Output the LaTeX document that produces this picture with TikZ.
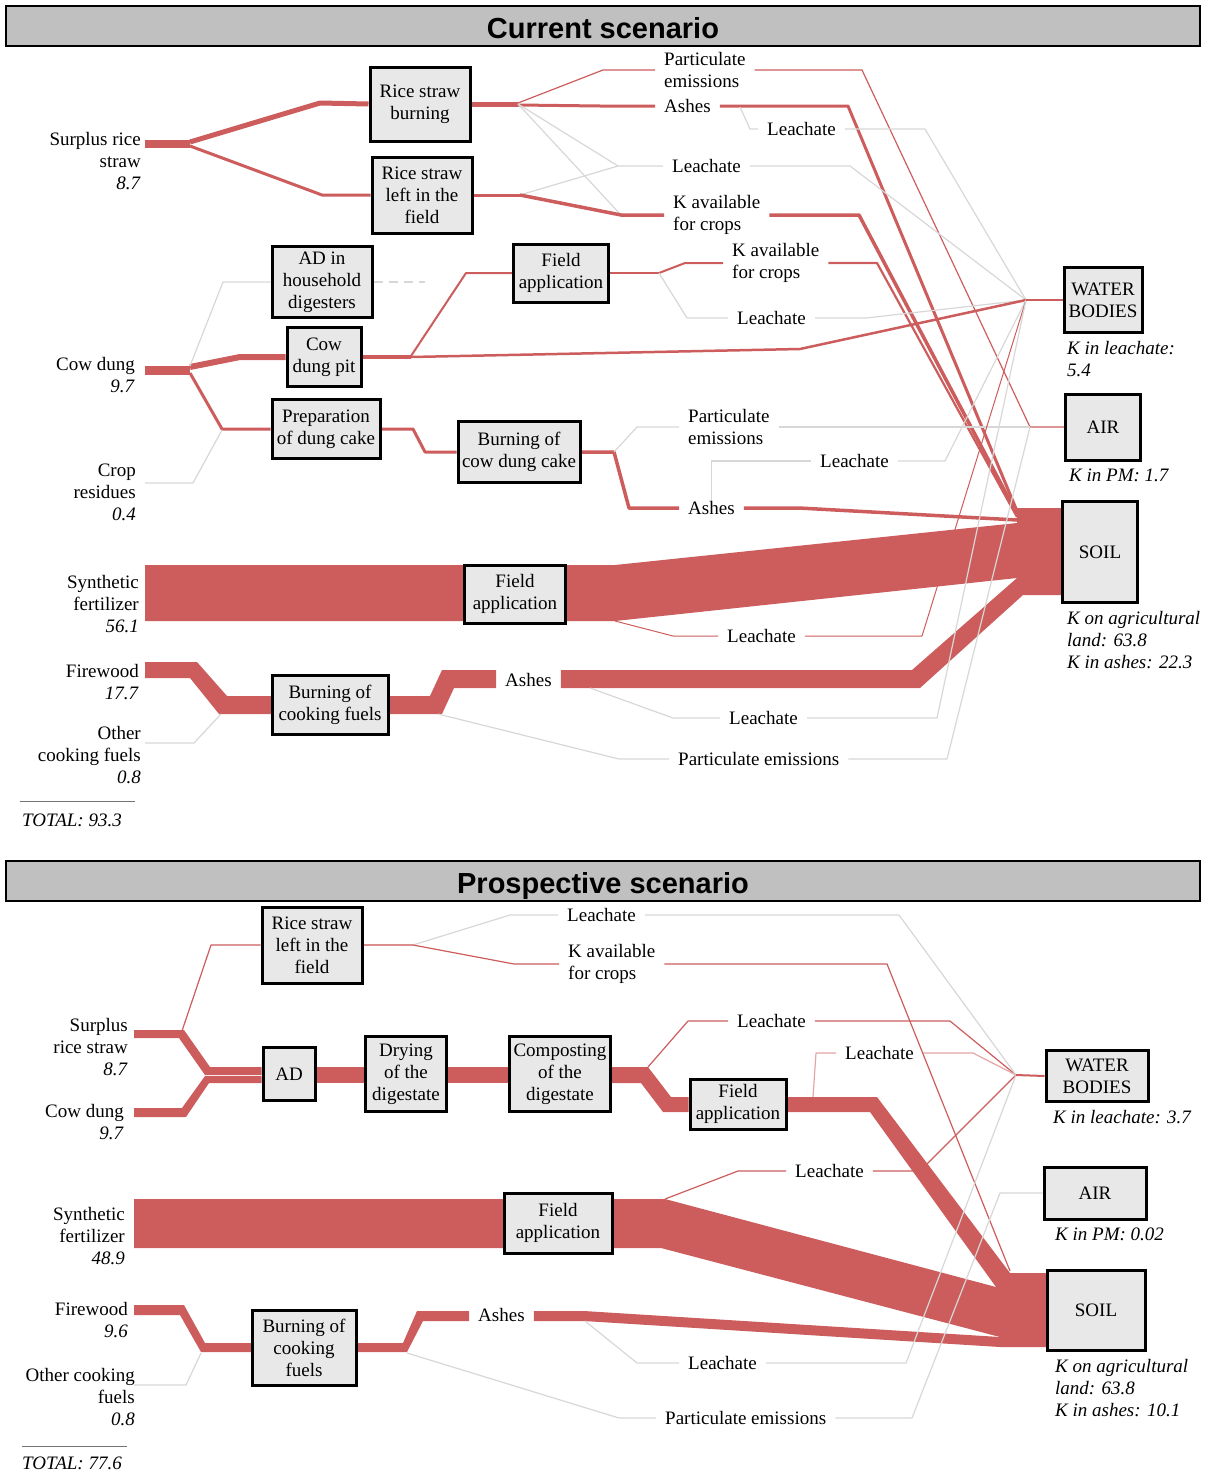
\documentclass[tikz,border=0pt]{standalone}
\usepackage{fontspec}
\setmainfont{Liberation Serif}
\newfontfamily\headfont{Liberation Sans}
\usetikzlibrary{backgrounds}
\definecolor{flow}{RGB}{205,92,92}
\definecolor{flowgray}{RGB}{215,215,215}
\definecolor{boxfill}{RGB}{232,232,232}
\definecolor{barfill}{RGB}{192,192,192}
\newcommand\lblsize{\fontsize{19}{22}\selectfont}
\begin{document}
\begin{tikzpicture}[x=1pt,y=-1pt,
  bx/.style={draw=black,line width=3pt,fill=boxfill,align=center,inner sep=0pt,font=\lblsize},
  lbl/.style={anchor=west,align=left,inner xsep=9pt,inner ysep=0pt,font=\lblsize},
  src/.style={anchor=east,align=right,inner sep=0pt,font=\lblsize},
  res/.style={anchor=west,align=left,inner sep=0pt,font=\lblsize\itshape},
  rl/.style={draw=flow,line join=round,line width=#1},
  rl/.default=1.2pt,
  gl/.style={draw=flowgray,line width=1.2pt,line join=round},
  band/.style={fill=flow,draw=none},
  headbar/.style={draw=black,line width=2pt,fill=barfill},
  headtitle/.style={font=\headfont\bfseries\fontsize{29}{34}\selectfont},
  totalrule/.style={draw=black!55,line width=1pt}
]
\useasboundingbox (0,0) rectangle (1209,1475);

%% ===================== Current scenario =====================
\path[headbar] (6,6) rectangle (1200,46);
\node[headtitle,anchor=base] (t1) at (603,38) {Current scenario};

% process boxes
\node[bx,minimum width=100pt,minimum height=74pt] (rsb) at (420,104) {Rice straw\\burning};
\node[bx,minimum width=100pt,minimum height=76pt] (rsf) at (422,195) {Rice straw\\left in the\\field};
\node[bx,minimum width=100pt,minimum height=71pt] (adh) at (322,282) {AD in\\household\\digesters};
\node[bx,minimum width=74pt,minimum height=59pt] (pit) at (324,357) {Cow\\dung pit};
\node[bx,minimum width=108pt,minimum height=59pt] (prep) at (326,429) {Preparation\\of dung cake};
\node[bx,minimum width=122pt,minimum height=61pt] (bcc) at (519,452) {Burning of\\cow dung cake};
\node[bx,minimum width=95pt,minimum height=58pt] (fa1) at (561,273) {Field\\application};
\node[bx,minimum width=101pt,minimum height=58pt] (fa2) at (515,594) {Field\\application};
\node[bx,minimum width=116pt,minimum height=59pt] (bcf) at (330,705) {Burning of\\cooking fuels};
\node[bx,minimum width=78pt,minimum height=65pt] (wat) at (1103,300) {WATER\\BODIES};
\node[bx,minimum width=75pt,minimum height=66pt] (air) at (1103,427) {AIR};
\node[bx,minimum width=75pt,minimum height=101pt] (soil) at (1100,552) {SOIL};

% inputs
\node[src] (s1) at (141,161) {Surplus rice\\straw\\\textit{8.7}};
\node[src] (s2) at (135,375) {Cow dung\\\textit{9.7}};
\node[src] (s3) at (136,492) {Crop\\residues\\\textit{0.4}};
\node[src] (s4) at (139,604) {Synthetic\\fertilizer\\\textit{56.1}};
\node[src] (s5) at (139,682) {Firewood\\\textit{17.7}};
\node[src] (s6) at (141,755) {Other\\cooking fuels\\\textit{0.8}};
\coordinate (r1a) at (20,801);
\coordinate (r1b) at (135,801);
\draw[totalrule] (r1a) -- (r1b);
\node[res] (tot1) at (22,820) {TOTAL: 93.3};

% intermediate labels
\node[lbl] (ppe1) at (655,70) {Particulate\\emissions};
\node[lbl] (ash1) at (655,106) {Ashes};
\node[lbl] (lea1) at (758,129) {Leachate};
\node[lbl] (lea2) at (663,166) {Leachate};
\node[lbl] (kav1) at (664,215) {K available\\for crops};
\node[lbl] (kav2) at (723,263) {K available\\for crops};
\node[lbl] (lea3) at (728,318) {Leachate};
\node[lbl] (ppe2) at (679,427) {Particulate\\emissions};
\node[lbl] (lea4) at (811,461) {Leachate};
\node[lbl] (ash2) at (679,508) {Ashes};
\node[lbl] (lea5) at (718,636) {Leachate};
\node[lbl] (ash3) at (496,680) {Ashes};
\node[lbl] (lea6) at (720,718) {Leachate};
\node[lbl] (ppe3) at (669,759) {Particulate emissions};

% results
\node[res] (k1) at (1067,359) {K in leachate:\\5.4};
\node[res] (k2) at (1069,475) {K in PM: 1.7};
\node[res] (k3) at (1067,640) {K on agricultural\\land: 63.8\\K in ashes: 22.3};

\coordinate (watJ) at (1026,300);
\coordinate (airJ) at (1030,427);

\begin{pgfonlayer}{background}
% surplus rice straw
\draw[rl=8pt] (145,144) -- (190,144);
\draw[rl=5pt] (190,142) -- (320,103) -- (rsb.west);
\draw[rl=3pt] (190,146) -- (322,195) -- (rsf.west);
\draw[rl=5pt] (rsb.east) -- (518,104);
\draw[rl] (518,103) -- (603,70) -- (ppe1.west);
\draw[rl=3pt] (518,105) -- (600,106) -- (ash1.west);
\draw[gl] (518,104) -- (618,166) -- (lea2.west);
\draw[gl] (518,104) -- (621,215);
\draw[rl=3pt] (rsf.east) -- (520,195);
\draw[gl] (520,195) -- (618,166);
\draw[rl=3.5pt] (520,195) -- (621,215) -- (kav1.west);
\draw[rl] (ppe1.east) -- (862,70) -- (airJ) -- (air.west);
\draw[rl=3pt] (ash1.east) -- (848,106) -- (1017,511);
\draw[gl] (740,107) -- (750,129) -- (lea1.west);
\draw[gl] (lea1.east) -- (925,129) -- (watJ);
\draw[gl] (lea2.east) -- (850,166) -- (watJ);
\draw[rl=3.5pt] (kav1.east) -- (859,215) -- (1017,514);
% field application of pit content
\draw[rl=2pt] (fa1.east) -- (659,273);
\draw[rl=2pt] (659,273) -- (685,263) -- (kav2.west);
\draw[gl] (659,273) -- (687,318) -- (lea3.west);
\draw[rl=2.2pt] (kav2.east) -- (877,263) -- (1017,517);
\draw[gl] (lea3.east) -- (866,318) -- (watJ);
% cow dung
\draw[rl=9pt] (145,370) -- (190,370);
\draw[rl=6pt] (190,367) -- (240,357) -- (pit.west);
\draw[rl=3pt] (190,373) -- (222,429) -- (prep.west);
\draw[gl] (190,366) -- (223,282) -- (adh.west);
\draw[gl,dash pattern=on 9pt off 6pt] (adh.east) -- (425,282);
\draw[gl] (145,483) -- (193,483) -- (222,430);
\draw[rl=4pt] (pit.east) -- (411,357);
\draw[rl=2pt] (411,356) -- (466,273) -- (fa1.west);
\draw[rl=2.5pt] (411,357) -- (800,349) -- (watJ);
\draw[rl=3pt] (prep.east) -- (413,429) -- (425,452) -- (bcc.west);
\draw[rl=3.5pt] (bcc.east) -- (614,452) -- (629,508) -- (ash2.west);
\draw[gl] (614,452) -- (637,427) -- (ppe2.west);
\draw[gl] (ppe2.east) -- (airJ);
\draw[rl=3.5pt] (ash2.east) -- (799,508) -- (1017,520);
\draw[gl] (ash2.north) -- (ash2.north |- lea4.west) -- (lea4.west);
\draw[gl] (lea4.east) -- (945,461) -- (watJ);
% synthetic fertilizer
\fill[band] (145,565) -- (615,565) -- (1017,523) -- (1063,523) -- (1063,578) -- (1017,578) -- (615,621) -- (145,621) -- cycle;
\draw[rl=1pt] (615,621) -- (673,636) -- (lea5.west);
\draw[rl=1pt] (lea5.east) -- (922,636) -- (watJ);
% cooking fuels
\fill[band] (145,662) -- (197,662) -- (227,696) -- (430,696) -- (442,670) -- (ash3.west |- 0,670) -- (ash3.west |- 0,688) -- (454,688) -- (442,714) -- (219,714) -- (190,678) -- (145,678) -- cycle;
\fill[band] (ash3.east |- 0,670) -- (912,670) -- (1017,578) -- (1063,578) -- (1063,595) -- (1023,595) -- (920,688) -- (ash3.east |- 0,688) -- cycle;
\draw[gl] (145,743) -- (194,743) -- (221,714);
\draw[gl] (438,714) -- (619,759) -- (ppe3.west);
\draw[gl] (ppe3.east) -- (947,759) -- (airJ);
\draw[gl] (590,688) -- (673,718) -- (lea6.west);
\draw[gl] (lea6.east) -- (937,718) -- (watJ);
% sinks
\draw[rl=2.5pt] (watJ) -- (wat.west);
\fill[band] (1017,508) rectangle (1063,523);
\end{pgfonlayer}

%% ===================== Prospective scenario =====================
\path[headbar] (6,861) rectangle (1200,901);
\node[headtitle,anchor=base] (t2) at (603,893) {Prospective scenario};

\node[bx,minimum width=100pt,minimum height=76pt] (rsf2) at (312,945) {Rice straw\\left in the\\field};
\node[bx,minimum width=52pt,minimum height=53pt] (ad) at (289,1074) {AD};
\node[bx,minimum width=81pt,minimum height=75pt] (dry) at (406,1074) {Drying\\of the\\digestate};
\node[bx,minimum width=101pt,minimum height=75pt] (comp) at (560,1074) {Composting\\of the\\digestate};
\node[bx,minimum width=96pt,minimum height=50pt] (fa3) at (738,1104) {Field\\application};
\node[bx,minimum width=108pt,minimum height=60pt] (fa4) at (558,1223) {Field\\application};
\node[bx,minimum width=104pt,minimum height=75pt] (bcf2) at (304,1348) {Burning of\\cooking\\fuels};
\node[bx,minimum width=102pt,minimum height=51pt] (wat2) at (1097,1076) {WATER\\BODIES};
\node[bx,minimum width=102pt,minimum height=52pt] (air2) at (1095,1193) {AIR};
\node[bx,minimum width=98pt,minimum height=80pt] (soil2) at (1096,1310) {SOIL};

\node[src] (p1) at (128,1047) {Surplus\\rice straw\\\textit{8.7}};
\node[src] (p2) at (124,1122) {Cow dung\\\textit{9.7}};
\node[src] (p3) at (125,1236) {Synthetic\\fertilizer\\\textit{48.9}};
\node[src] (p4) at (128,1320) {Firewood\\\textit{9.6}};
\node[src] (p5) at (135,1397) {Other cooking\\fuels\\\textit{0.8}};
\coordinate (r2a) at (22,1446);
\coordinate (r2b) at (127,1446);
\draw[totalrule] (r2a) -- (r2b);
\node[res] (tot2) at (22,1463) {TOTAL: 77.6};

\node[lbl] (lb1) at (558,915) {Leachate};
\node[lbl] (kb1) at (559,964) {K available\\for crops};
\node[lbl] (lb2) at (728,1021) {Leachate};
\node[lbl] (lb3) at (836,1053) {Leachate};
\node[lbl] (lb4) at (786,1171) {Leachate};
\node[lbl] (ab1) at (469,1315) {Ashes};
\node[lbl] (lb5) at (679,1363) {Leachate};
\node[lbl] (pb1) at (656,1418) {Particulate emissions};

\node[res] (q1) at (1053,1117) {K in leachate: 3.7};
\node[res] (q2) at (1055,1234) {K in PM: 0.02};
\node[res] (q3) at (1055,1388) {K on agricultural\\land: 63.8\\K in ashes: 10.1};

\coordinate (watJ2) at (1016,1075);
\coordinate (airJ2) at (1000,1193);

\begin{pgfonlayer}{background}
% rice straw and cow dung into AD
\fill[band] (134,1030) -- (184,1030) -- (210,1067) -- (ad.west |- 0,1067) -- (ad.west |- 0,1075) -- (205,1075) -- (179,1038) -- (134,1038) -- cycle;
\fill[band] (134,1108) -- (182,1108) -- (205,1076) -- (ad.west |- 0,1076) -- (ad.west |- 0,1083) -- (209,1083) -- (186,1117) -- (134,1117) -- cycle;
\draw[rl] (182,1031) -- (211,945) -- (rsf2.west);
\fill[band] (ad.east |- 0,1067) rectangle (dry.west |- 0,1083);
\fill[band] (dry.east |- 0,1067) rectangle (comp.west |- 0,1083);
\fill[band] (comp.east |- 0,1067) -- (648,1067) -- (671,1097) -- (fa3.west |- 0,1097) -- (fa3.west |- 0,1112) -- (663,1112) -- (641,1083) -- (comp.east |- 0,1083) -- cycle;
\draw[rl] (648,1067) -- (688,1021) -- (lb2.west);
\draw[rl] (lb2.east) -- (950,1021) -- (watJ2);
\fill[band] (fa3.east |- 0,1097) -- (877,1097) -- (1010,1273) -- (1047,1273) -- (1047,1287) -- (996,1287) -- (870,1112) -- (fa3.east |- 0,1112) -- cycle;
\draw[rl,draw=flow!55] (813,1097) -- (816,1053) -- (lb3.west);
\draw[rl,draw=flow!55] (lb3.east) -- (973,1053) -- (watJ2);
% rice straw left in the field
\draw[rl,draw=flow!70] (rsf2.east) -- (413,945);
\draw[gl] (413,945) -- (510,915) -- (lb1.west);
\draw[rl] (413,945) -- (514,964) -- (kb1.west);
\draw[gl] (lb1.east) -- (899,915) -- (watJ2);
\draw[rl] (kb1.east) -- (887,964) -- (1010,1271);
% synthetic fertilizer
\fill[band] (134,1199) -- (665,1199) -- (996,1287) -- (1047,1287) -- (1047,1337) -- (1000,1337) -- (661,1248) -- (134,1248) -- cycle;
\draw[rl] (665,1199) -- (738,1171) -- (lb4.west);
\draw[rl] (lb4.east) -- (920,1171) -- (watJ2);
% cooking fuels
\fill[band] (134,1305) -- (184,1305) -- (205,1343) -- (403,1343) -- (417,1311) -- (ab1.west |- 0,1311) -- (ab1.west |- 0,1321) -- (423,1321) -- (407,1352) -- (201,1352) -- (180,1315) -- (134,1315) -- cycle;
\draw[gl] (134,1385) -- (186,1385) -- (201,1353);
\fill[band] (ab1.east |- 0,1311) -- (584,1311) -- (1000,1337) -- (1047,1337) -- (1047,1347) -- (1000,1347) -- (584,1321) -- (ab1.east |- 0,1321) -- cycle;
\draw[gl] (585,1321) -- (637,1363) -- (lb5.west);
\draw[gl] (lb5.east) -- (906,1363) -- (watJ2);
\draw[gl] (407,1353) -- (619,1418) -- (pb1.west);
\draw[gl] (pb1.east) -- (912,1418) -- (airJ2) -- (air2.west);
\draw[rl=2pt] (watJ2) -- (wat2.west);
\end{pgfonlayer}
\end{tikzpicture}
\end{document}
